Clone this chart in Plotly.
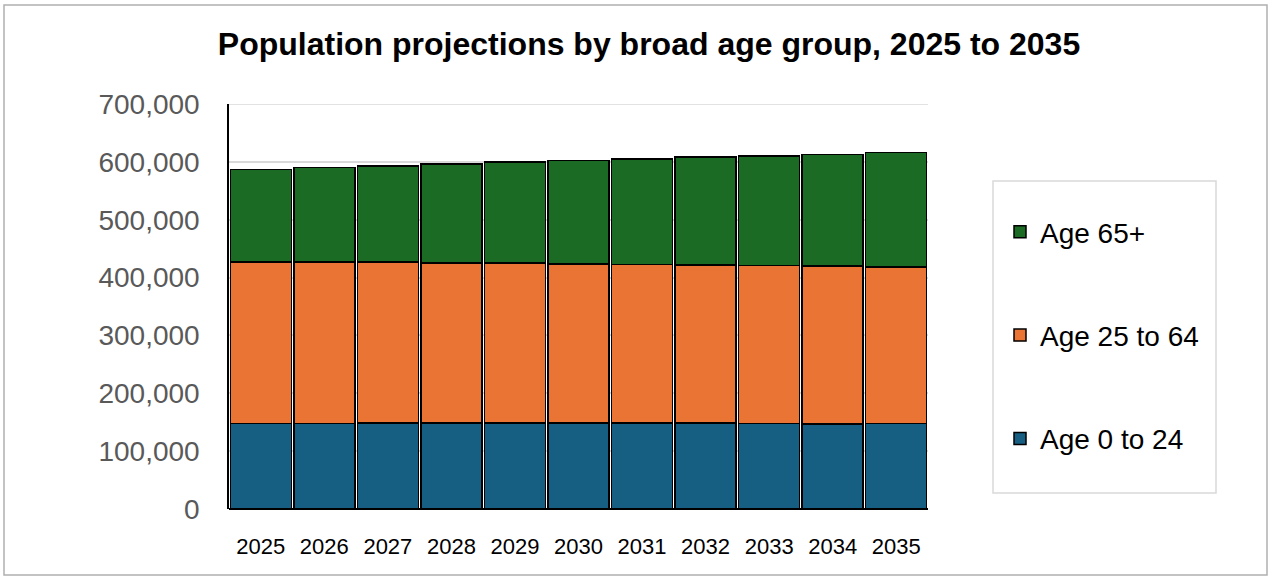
import plotly.graph_objects as go

years = ["2025", "2026", "2027", "2028", "2029", "2030", "2031", "2032", "2033", "2034", "2035"]
age_0_24 = [148000, 148000, 148500, 148500, 148500, 148500, 148500, 148500, 148000, 147000, 147500]
age_25_64 = [279000, 278700, 278000, 277000, 276500, 275300, 274500, 273500, 272500, 273000, 271200]
age_65p = [160000, 163800, 166500, 170500, 175000, 178800, 182000, 186000, 189500, 193000, 197300]
y_ticks = [0, 100000, 200000, 300000, 400000, 500000, 600000, 700000]

series = [
    ("Age 0 to 24", age_0_24, "#175f82"),
    ("Age 25 to 64", age_25_64, "#ea7434"),
    ("Age 65+", age_65p, "#1c6b25"),
]

W, H = 1272, 580
L, R, T, B = 229, 928, 104, 509

fig = go.Figure()
for i, (name, vals, col) in enumerate(series):
    fig.add_trace(go.Bar(
        x=years, y=vals, name=name, legendgroup=f"g{i}", legendrank=10 - i,
        marker=dict(color=col, line=dict(color="#000000", width=1.5)),
    ))

pw = R - L
ph = B - T
fig.update_layout(
    width=W, height=H,
    barmode="stack", bargap=0.04,
    paper_bgcolor="white", plot_bgcolor="white",
    margin=dict(l=L, r=W - R, t=T, b=H - B, pad=0),
    title=dict(text="<b>Population projections by broad age group, 2025 to 2035</b>",
               x=(649 - L) / pw, xref="paper", xanchor="center", y=1 - 44 / H, yanchor="middle",
               font=dict(family="Liberation Sans, Arial, sans-serif", size=32, color="#000000")),
    font=dict(family="Liberation Sans, Arial, sans-serif"),
    showlegend=True,
    legend=dict(
        x=(1000 - L) / pw, xanchor="left", y=1 - (207 - T) / ph, yanchor="top",
        traceorder="grouped", tracegroupgap=64,
        font=dict(family="Liberation Sans, Arial, sans-serif", size=28, color="#000000"),
        bgcolor="rgba(0,0,0,0)", itemwidth=30,
    ),
    xaxis=dict(
        showline=False, showgrid=False, ticks="",
        tickfont=dict(family="Liberation Sans Narrow, Arial Narrow, Liberation Sans, sans-serif", size=22, color="#000000"),
        ticklabelstandoff=22,
    ),
    yaxis=dict(
        range=[y_ticks[0], y_ticks[-1]], tickvals=y_ticks,
        tickformat=",", showgrid=True, gridcolor="#d9d9d9", gridwidth=1.5,
        zeroline=True, zerolinecolor="#000000", zerolinewidth=1.5,
        showline=True, linecolor="#000000", linewidth=1.5, ticks="",
        tickfont=dict(family="Liberation Sans, Arial, sans-serif", size=28, color="#595959"),
        ticklabelstandoff=22,
    ),
    shapes=[
        dict(type="line", xref="paper", yref="y", x0=0, x1=1, y0=y_ticks[-1], y1=y_ticks[-1],
             line=dict(color="#d9d9d9", width=1.5), layer="below"),
        dict(type="rect", xref="paper", yref="paper",
             x0=(4 - L) / pw, x1=(1267 - L) / pw, y0=1 - (575 - T) / ph, y1=1 - (5 - T) / ph,
             line=dict(color="#b0b0b0", width=1.5), fillcolor="rgba(0,0,0,0)", layer="below"),
        dict(type="rect", xref="paper", yref="paper",
             x0=(993 - L) / pw, x1=(1216 - L) / pw, y0=1 - (493 - T) / ph, y1=1 - (181 - T) / ph,
             line=dict(color="#d9d9d9", width=1.5), fillcolor="rgba(0,0,0,0)", layer="below"),
    ],
)

fig.write_html("out.html", config={"displayModeBar": False},
               post_script="document.body.style.margin='0';document.body.style.padding='0';")
